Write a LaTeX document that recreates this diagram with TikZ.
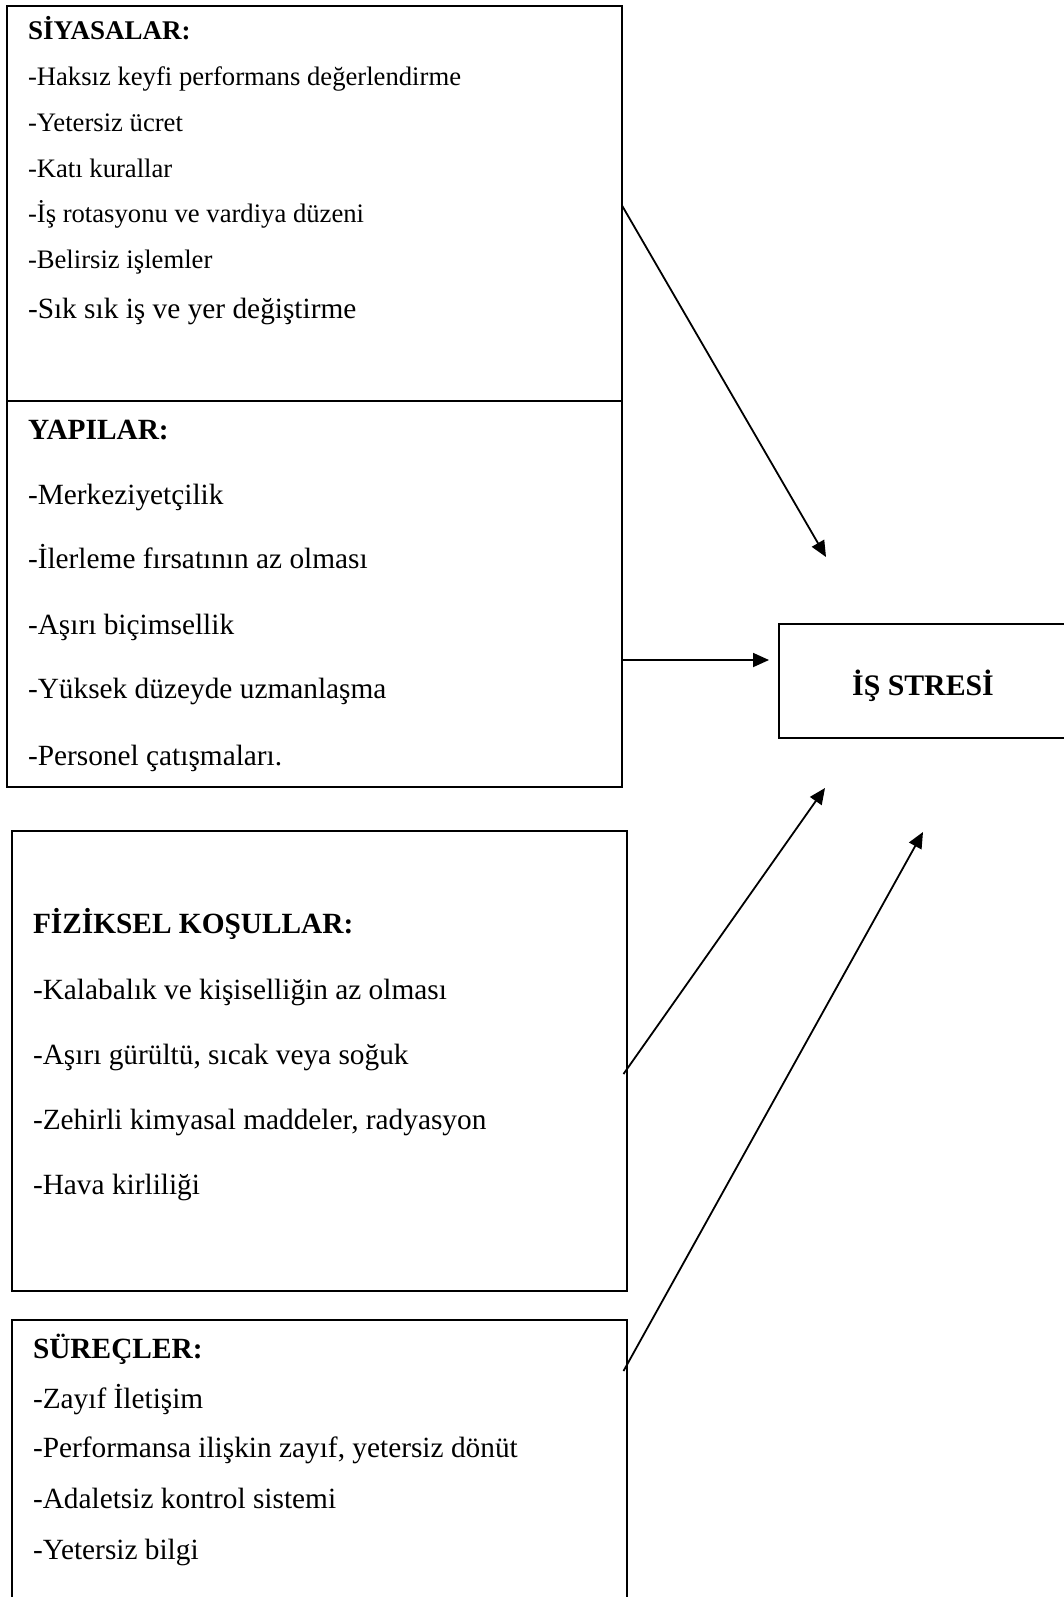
\documentclass[tikz,border=0pt]{standalone}
\usepackage{fontspec}
\setmainfont{Liberation Serif}
\usetikzlibrary{arrows.meta,calc}
\begin{document}
\begin{tikzpicture}[x=0.5pt,y=-0.5pt,
  every node/.style={font=\fontsize{14.67pt}{17pt}\selectfont},
  box/.style={draw=black, line width=1pt, rectangle, inner sep=0pt, outer sep=0pt, anchor=north west},
  txt/.style={anchor=base west, inner sep=0pt, outer sep=0pt},
  hd/.style={txt, font=\fontsize{14.67pt}{17pt}\selectfont\bfseries},
  stxt/.style={txt, font=\fontsize{13.33pt}{16pt}\selectfont},
  shd/.style={txt, font=\fontsize{13.5pt}{16pt}\selectfont\bfseries},
  arr/.style={line width=0.9pt, -{Triangle[length=8pt,width=7pt]}}]
\useasboundingbox (0,0) rectangle (1064,1597);
\clip (0,0) rectangle (1064,1597);
\fill[white] (0,0) rectangle (1064,1597);

% boxes
\node[box, minimum width=307.5pt, minimum height=197.5pt] (siy) at (7,6) {};
\node[box, minimum width=307.5pt, minimum height=193pt] (yap) at (7,401) {};
\node[box, minimum width=307.25pt, minimum height=230pt] (fiz) at (12,831) {};
\node[box, minimum width=307.25pt, minimum height=165pt] (sur) at (12,1320) {};
\node[box, minimum width=144pt, minimum height=57pt, text height=14pt, text depth=0pt,
      font=\fontsize{14.9pt}{17pt}\selectfont\bfseries] (is) at (779,624) {İŞ STRESİ};

% SİYASALAR
\node[shd]  (s0) at (28,39)  {SİYASALAR:};
\node[stxt] (s1) at (28,85)  {-Haksız keyfi performans değerlendirme};
\node[stxt] (s2) at (28,131) {-Yetersiz ücret};
\node[stxt] (s3) at (28,177) {-Katı kurallar};
\node[stxt] (s4) at (28,222) {-İş rotasyonu ve vardiya düzeni};
\node[stxt] (s5) at (28,268) {-Belirsiz işlemler};
\node[txt]  (s6) at (28,318) {-Sık sık iş ve yer değiştirme};

% YAPILAR
\node[hd]  (y0) at (28,439) {YAPILAR:};
\node[txt] (y1) at (28,504) {-Merkeziyetçilik};
\node[txt] (y2) at (28,568) {-İlerleme fırsatının az olması};
\node[txt] (y3) at (28,634) {-Aşırı biçimsellik};
\node[txt] (y4) at (28,698) {-Yüksek düzeyde uzmanlaşma};
\node[txt] (y5) at (28,765) {-Personel çatışmaları.};

% FİZİKSEL KOŞULLAR
\node[hd]  (f0) at (33,933)  {FİZİKSEL KOŞULLAR:};
\node[txt] (f1) at (33,999)  {-Kalabalık ve kişiselliğin az olması};
\node[txt] (f2) at (33,1064) {-Aşırı gürültü, sıcak veya soğuk};
\node[txt] (f3) at (33,1129) {-Zehirli kimyasal maddeler, radyasyon};
\node[txt] (f4) at (33,1194) {-Hava kirliliği};

% SÜREÇLER
\node[hd]  (p0) at (33,1358) {SÜREÇLER:};
\node[txt] (p1) at (33,1408) {-Zayıf İletişim};
\node[txt] (p2) at (33,1457) {-Performansa ilişkin zayıf, yetersiz dönüt};
\node[txt] (p3) at (33,1508) {-Adaletsiz kontrol sistemi};
\node[txt] (p4) at (33,1559) {-Yetersiz bilgi};

% arrow tips
\coordinate (t1) at (826,557);
\coordinate (t2) at (769,660);
\coordinate (t3) at (825,788);
\coordinate (t4) at (923,832);

\draw[arr] ($(siy.east)+(0,2)$) -- (t1);
\draw[arr] ($(yap.east)+(0,66)$) -- (t2);
\draw[arr] ($(fiz.east)+(-3,13)$) -- (t3);
\draw[arr] ($(sur.north east)+(-3,51)$) -- (t4);
\end{tikzpicture}
\end{document}
